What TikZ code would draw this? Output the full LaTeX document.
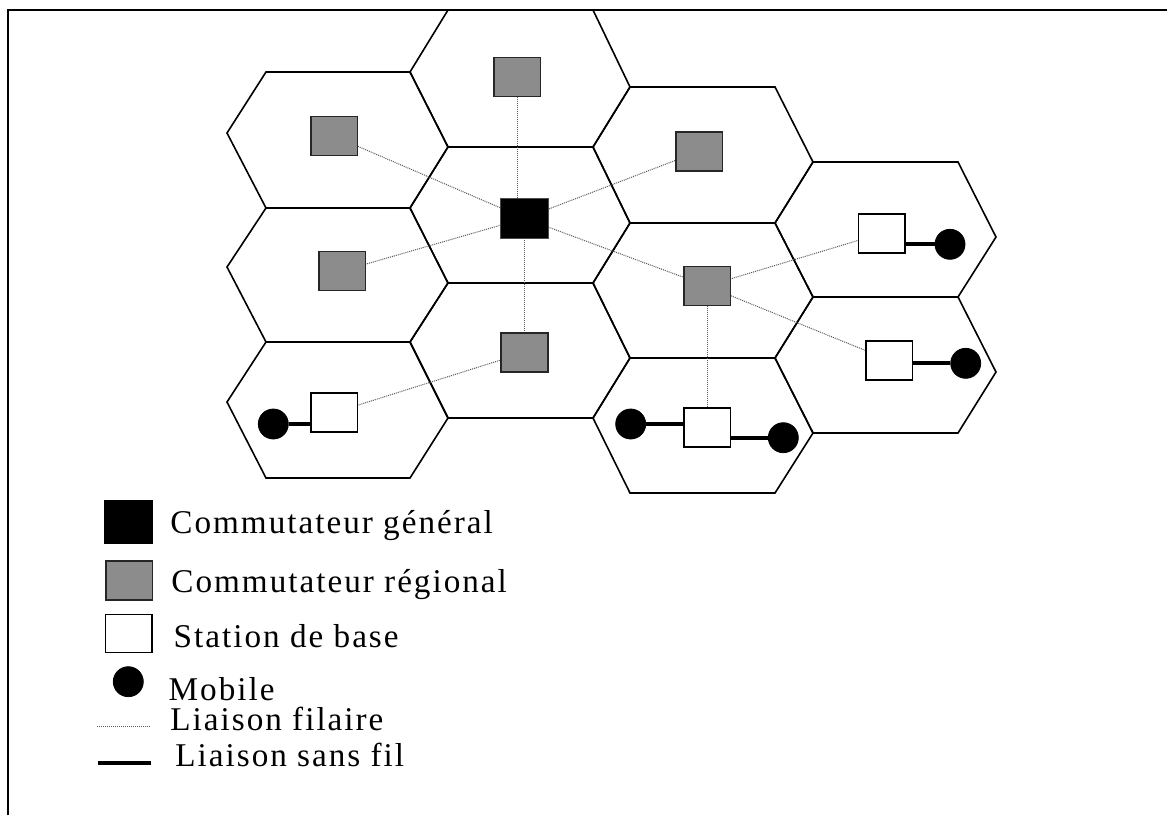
\documentclass[tikz,border=0pt]{standalone}
\usepackage{fontspec}
\setmainfont{Liberation Serif}[LetterSpace=6]
\definecolor{regional}{RGB}{140,140,140}
\definecolor{wirecol}{RGB}{90,90,90}
\begin{document}
\begin{tikzpicture}[x=0.5pt,y=-0.5pt,
  hex/.style={draw=black,line width=0.8pt,line join=miter},
  box/.style={rectangle,inner sep=0pt,minimum width=23.3pt,minimum height=19.5pt,line width=0.8pt},
  general/.style={box,fill=black,draw=black!70},
  regsw/.style={box,fill=regional,draw=black!85},
  basest/.style={box,fill=white,draw=black},
  mobile/.style={circle,fill=black,draw=black,inner sep=0pt,minimum size=15pt},
  wire/.style={draw=wirecol,line width=0.5pt,dash pattern=on 0.5pt off 0.5pt},
  radio/.style={draw=black,line width=2pt},
  legtext/.style={anchor=base west,inner sep=0pt,font=\fontsize{16.6pt}{19pt}\selectfont}]
\useasboundingbox (0,0) rectangle (1167,815);
\fill[white] (0,0) rectangle (1167,815);
% frame
\draw[line width=1pt] (7.5,815) -- (7.5,9.5) -- (1167,9.5);
% hexagons
\draw[hex] (266,72) -- (410,72) -- (448,147) -- (410,208) -- (266,208) -- (227,133) -- cycle;
\draw[hex] (448,10) -- (593,10) -- (630,87) -- (593,147) -- (448,147) -- (410,72) -- cycle;
\draw[hex] (448,147) -- (593,147) -- (630,223) -- (593,283) -- (448,283) -- (410,208) -- cycle;
\draw[hex] (266,208) -- (410,208) -- (448,283) -- (410,342) -- (266,342) -- (227,267) -- cycle;
\draw[hex] (448,283) -- (593,283) -- (630,358) -- (593,418) -- (448,418) -- (410,342) -- cycle;
\draw[hex] (266,342) -- (410,342) -- (448,418) -- (410,478) -- (266,478) -- (227,402) -- cycle;
\draw[hex] (630,87) -- (775,87) -- (813,162) -- (775,223) -- (630,223) -- (593,147) -- cycle;
\draw[hex] (813,162) -- (958,162) -- (996,237) -- (958,297) -- (813,297) -- (775,223) -- cycle;
\draw[hex] (630,223) -- (775,223) -- (813,297) -- (775,358) -- (630,358) -- (593,283) -- cycle;
\draw[hex] (630,358) -- (775,358) -- (813,433) -- (775,493) -- (630,493) -- (593,418) -- cycle;
\draw[hex] (813,297) -- (958,297) -- (996,372) -- (958,433) -- (813,433) -- (775,358) -- cycle;
% positions of switches and stations
\path (524.5,218.3) coordinate (pG)
      (334,136) coordinate (pA)
      (517,77) coordinate (pB)
      (342,271) coordinate (pD)
      (524.5,352.5) coordinate (pE)
      (699.3,151.2) coordinate (pGg)
      (707,286) coordinate (pI)
      (334,412.7) coordinate (pbF)
      (881.7,233.3) coordinate (pbH)
      (889.3,360.2) coordinate (pbK)
      (707,427.5) coordinate (pbJ);
% wired links
\draw[wire] (pA) -- (pG);
\draw[wire] (pB) -- (pB |- pG);
\draw[wire] (pD) -- (pG);
\draw[wire] (pE) -- (pG);
\draw[wire] (pGg) -- (pG);
\draw[wire] (pI) -- (pG);
\draw[wire] (pE) -- (pbF);
\draw[wire] (pI) -- (pbH);
\draw[wire] (pI) -- (pbK);
\draw[wire] (pI) -- (pbJ);
% switches and stations
\node[general,minimum width=24pt,minimum height=20pt] (gen) at (pG) {};
\node[regsw] (rA) at (pA) {};
\node[regsw] (rB) at (pB) {};
\node[regsw] (rD) at (pD) {};
\node[regsw] (rE) at (pE) {};
\node[regsw] (rG) at (pGg) {};
\node[regsw] (rI) at (pI) {};
\node[basest] (bF) at (pbF) {};
\node[basest] (bH) at (pbH) {};
\node[basest] (bK) at (pbK) {};
\node[basest] (bJ) at (pbJ) {};
% mobiles
\node[mobile] (mF) at (273.3,424) {};
\node[mobile] (mH) at (950,244.3) {};
\node[mobile] (mK) at (965.7,363.3) {};
\node[mobile] (mJ1) at (630.7,424) {};
\node[mobile] (mJ2) at (783.3,437.7) {};
% radio links
\draw[radio] (mF.east) -- (mF.east -| bF.west);
\draw[radio] (mH.west) -- (mH.west -| bH.east);
\draw[radio] (mK.west) -- (mK.west -| bK.east);
\draw[radio] (mJ1.east) -- (mJ1.east -| bJ.west);
\draw[radio] (mJ2.west) -- (mJ2.west -| bJ.east);
% legend
\node[general,minimum width=24pt,minimum height=21pt,draw=black] (lg) at (128.3,522) {};
\node[legtext] (tg) at (170,533) {Commutateur général};
\node[regsw] (lr) at (129,580.5) {};
\node[legtext] (tr) at (171,592) {Commutateur régional};
\node[basest,minimum height=19pt] (lb) at (128.7,633.3) {};
\node[legtext] (tb) at (173.3,647) {Station de base};
\node[mobile] (lm) at (128.3,681.7) {};
\node[legtext] (tm) at (168.3,700) {Mobile};
\coordinate (lw1) at (97.3,726);
\coordinate (lw2) at (150,726);
\draw[wire] (lw1) -- (lw2);
\node[legtext] (tw) at (170,730) {Liaison filaire};
\coordinate (lr1) at (98.3,762.7);
\coordinate (lr2) at (151,762.7);
\draw[radio] (lr1) -- (lr2);
\node[legtext] (ts) at (175,766.7) {Liaison sans fil};
\end{tikzpicture}
\end{document}
